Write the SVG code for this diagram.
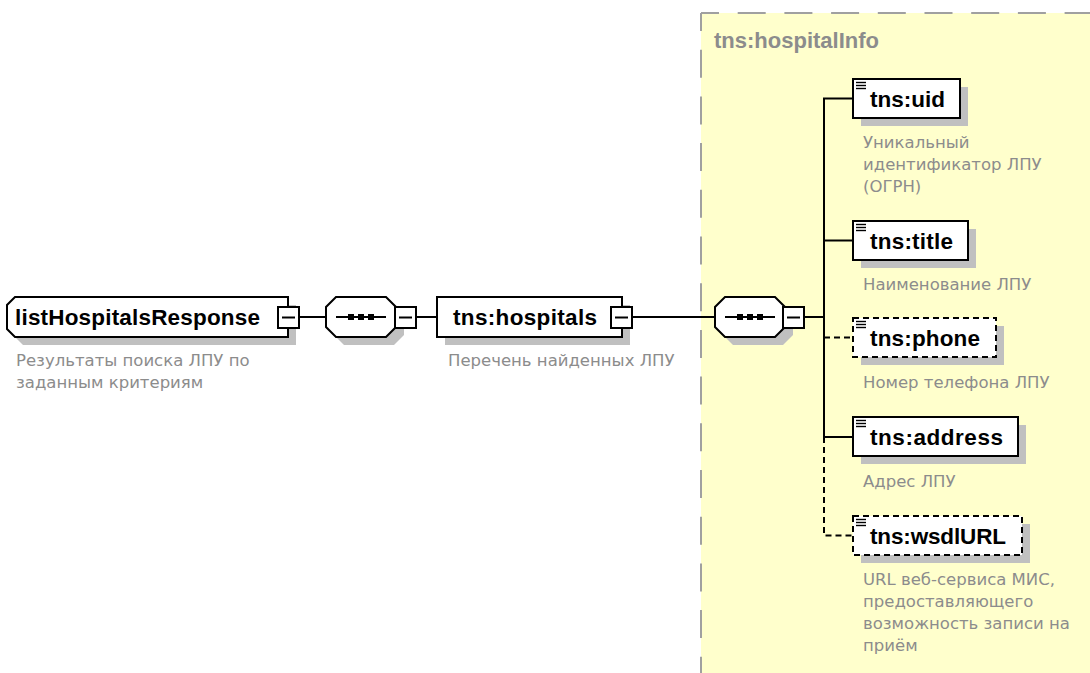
<svg xmlns="http://www.w3.org/2000/svg" xmlns:xlink="http://www.w3.org/1999/xlink" width="1090" height="673" viewBox="0 0 1090 673">
  <style>
    .box { fill: #ffffff; stroke: #000000; stroke-width: 2; }
    .shadow { fill: #c0c0c0; stroke: none; }
    .optional { stroke-dasharray: 6 4; }
    .name { font-family: "Liberation Sans", Arial, sans-serif; font-weight: bold; font-size: 22.5px; fill: #000000; }
    .doc { font-family: "DejaVu Sans", "Noto Sans", sans-serif; font-size: 16.5px; fill: #8c8c8c; }
    .group-title { font-family: "Liberation Sans", Arial, sans-serif; font-weight: bold; font-size: 22px; fill: #8c8c8c; }
    .conn { stroke: #000000; stroke-width: 2; fill: none; }
    .frame { stroke: #a0a0a0; stroke-width: 2; fill: none; stroke-dasharray: 28 18.7; stroke-dashoffset: 10; }
    .icon { stroke: #000000; stroke-width: 1.4; }
  </style>
  <defs>
    <!-- collapse toggle: square with a minus sign -->
    <g id="minus">
      <rect x="0" y="0" width="21" height="21" class="box"/>
      <line x1="4" y1="10.5" x2="17" y2="10.5" stroke="#000" stroke-width="2"/>
    </g>
    <!-- sequence compositor: octagon with dotted line, shadow drawn separately -->
    <polygon id="oct" points="10,0 60,0 70,10 70,30 60,40 10,40 0,30 0,10"/>
    <g id="seqmark">
      <line x1="10" y1="20" x2="60" y2="20" stroke="#000" stroke-width="2"/>
      <rect x="22" y="17" width="6" height="6" fill="#000"/>
      <rect x="32" y="17" width="6" height="6" fill="#000"/>
      <rect x="42" y="17" width="6" height="6" fill="#000"/>
    </g>
    <!-- simple-content marker at the top-left of child elements -->
    <g id="simple">
      <line x1="0" y1="0" x2="10" y2="0" class="icon"/>
      <line x1="0" y1="3" x2="10" y2="3" class="icon"/>
      <line x1="0" y1="6" x2="10" y2="6" class="icon"/>
    </g>
  </defs>

  <rect width="1090" height="673" fill="#ffffff"/>

  <!-- complex type area -->
  <g id="hospitalInfo">
    <rect x="701" y="13" width="400" height="670" fill="#ffffcc"/>
    <path d="M701 13 H1092" class="frame"/>
    <path d="M701 13 V675" class="frame"/>
    <text x="714" y="48" class="group-title">tns:hospitalInfo</text>
  </g>

  <!-- connectors -->
  <g id="connectors">
    <line x1="299" y1="317" x2="326" y2="317" class="conn"/>
    <line x1="416" y1="317" x2="437" y2="317" class="conn"/>
    <line x1="632" y1="317" x2="715" y2="317" class="conn"/>
    <line x1="804" y1="317" x2="824" y2="317" class="conn"/>
    <path d="M853 98.5 H824 V437 H853" class="conn"/>
    <line x1="824" y1="240.5" x2="853" y2="240.5" class="conn"/>
    <line x1="824" y1="337.5" x2="853" y2="337.5" class="conn optional"/>
    <path d="M824 437 V535.5 H853" class="conn optional"/>
  </g>

  <!-- root element -->
  <g id="listHospitalsResponse">
    <polygon points="23,305 296,305 296,345 23,345 15,337 15,313" class="shadow"/>
    <polygon points="15,297 288,297 288,337 15,337 7,329 7,305" class="box"/>
    <text x="15" y="325" class="name" textLength="245" lengthAdjust="spacing">listHospitalsResponse</text>
    <use xlink:href="#minus" x="278" y="307"/>
    <text class="doc"><tspan x="16" y="366">Результаты поиска ЛПУ по</tspan><tspan x="16" y="388">заданным критериям</tspan></text>
  </g>

  <!-- sequence under root -->
  <g id="sequence1">
    <use xlink:href="#oct" x="334" y="305" class="shadow"/>
    <use xlink:href="#oct" x="326" y="297" class="box"/>
    <use xlink:href="#seqmark" x="326" y="297"/>
    <use xlink:href="#minus" x="395" y="307"/>
  </g>

  <!-- hospitals element -->
  <g id="hospitals">
    <rect x="445" y="305" width="185" height="40" class="shadow"/>
    <rect x="437" y="297" width="185" height="40" class="box"/>
    <text x="453" y="325" class="name" textLength="144" lengthAdjust="spacing">tns:hospitals</text>
    <use xlink:href="#minus" x="611" y="307"/>
    <text x="448" y="366" class="doc">Перечень найденных ЛПУ</text>
  </g>

  <!-- sequence inside hospitalInfo -->
  <g id="sequence2">
    <use xlink:href="#oct" x="723" y="305" class="shadow"/>
    <use xlink:href="#oct" x="715" y="297" class="box"/>
    <use xlink:href="#seqmark" x="715" y="297"/>
    <use xlink:href="#minus" x="783" y="307"/>
  </g>

  <g id="uid">
    <rect x="861" y="87" width="107" height="39" class="shadow"/>
    <rect x="853" y="79" width="107" height="39" class="box"/>
    <use xlink:href="#simple" x="856" y="82.5"/>
    <text x="870" y="106.5" class="name" textLength="75" lengthAdjust="spacing">tns:uid</text>
    <text class="doc"><tspan x="863" y="148">Уникальный</tspan><tspan x="863" y="170">идентификатор ЛПУ</tspan><tspan x="863" y="192">(ОГРН)</tspan></text>
  </g>

  <g id="title">
    <rect x="861" y="229" width="115" height="39" class="shadow"/>
    <rect x="853" y="221" width="115" height="39" class="box"/>
    <use xlink:href="#simple" x="856" y="224.5"/>
    <text x="870" y="248.5" class="name" textLength="83" lengthAdjust="spacing">tns:title</text>
    <text x="863" y="290" class="doc">Наименование ЛПУ</text>
  </g>

  <g id="phone">
    <rect x="861" y="326" width="143" height="39" class="shadow"/>
    <rect x="853" y="318" width="143" height="39" class="box optional"/>
    <use xlink:href="#simple" x="856" y="321.5"/>
    <text x="870" y="345.5" class="name" textLength="110" lengthAdjust="spacing">tns:phone</text>
    <text x="863" y="388" class="doc">Номер телефона ЛПУ</text>
  </g>

  <g id="address">
    <rect x="861" y="425" width="165" height="39" class="shadow"/>
    <rect x="853" y="417" width="165" height="39" class="box"/>
    <use xlink:href="#simple" x="856" y="420.5"/>
    <text x="870" y="444.5" class="name" textLength="133" lengthAdjust="spacing">tns:address</text>
    <text x="863" y="487" class="doc">Адрес ЛПУ</text>
  </g>

  <g id="wsdlURL">
    <rect x="861" y="524" width="169" height="39" class="shadow"/>
    <rect x="853" y="516" width="169" height="39" class="box optional"/>
    <use xlink:href="#simple" x="856" y="519.5"/>
    <text x="870" y="543.5" class="name" textLength="136" lengthAdjust="spacing">tns:wsdlURL</text>
    <text class="doc"><tspan x="863" y="585">URL веб-сервиса МИС,</tspan><tspan x="863" y="607">предоставляющего</tspan><tspan x="863" y="629">возможность записи на</tspan><tspan x="863" y="651">приём</tspan></text>
  </g>
</svg>
